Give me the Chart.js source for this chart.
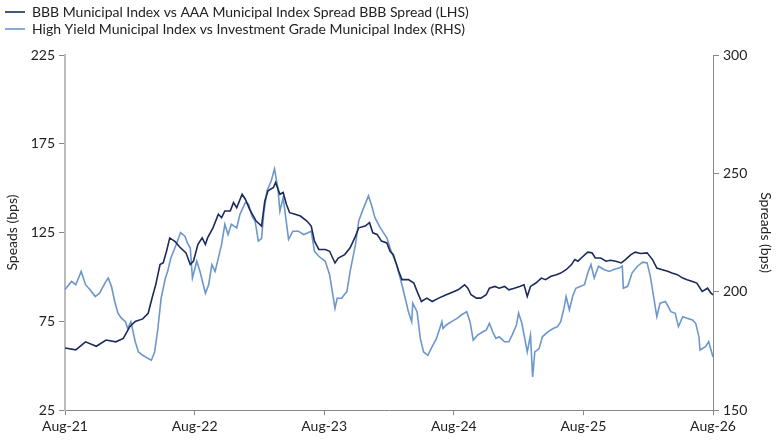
<!DOCTYPE html>
<html>
<head>
<meta charset="utf-8">
<script src="https://cdn.jsdelivr.net/npm/chart.js@4.4.1/dist/chart.umd.min.js"></script>
<style>
  html, body { margin: 0; padding: 0; background: #fff; }
  #wrap { position: relative; width: 780px; height: 440px; }
</style>
</head>
<body>
<div id="wrap"><canvas id="spreadChart"></canvas></div>
<script>
// x values are months since Aug-21
const xTickLabels = ['Aug-21', 'Aug-22', 'Aug-23', 'Aug-24', 'Aug-25', 'Aug-26'];

const bbbMonths = [
  0, 1.0, 1.9, 2.9, 3.8, 4.7, 5.4, 6.0, 6.5, 7.2,
  7.7, 8.1, 8.4, 8.8, 9.1, 9.4, 9.7, 10.2, 10.6, 11.2,
  11.6, 11.9, 12.3, 12.7, 13.0, 13.2, 13.7, 14.2, 14.5, 14.8,
  15.3, 15.6, 15.9, 16.4, 16.7, 17.1, 17.7, 18.2, 18.5, 18.8,
  19.3, 19.5, 19.9, 20.2, 20.5, 20.8, 21.3, 21.8, 22.4, 22.8,
  23.1, 23.5, 24.1, 24.5, 25.0, 25.3, 25.9, 26.4, 26.9, 27.2,
  27.8, 28.2, 28.5, 28.9, 29.3, 29.8, 30.1, 30.4, 30.9, 31.2,
  31.8, 32.3, 32.6, 33.0, 33.5, 34.0, 34.6, 35.3, 35.7, 36.4,
  37.0, 37.3, 37.6, 38.1, 38.5, 39.0, 39.3, 39.8, 40.2, 40.7,
  41.1, 41.6, 42.1, 42.5, 42.8, 43.1, 43.6, 44.1, 44.5, 45.0,
  45.5, 45.9, 46.4, 46.9, 47.2, 47.5, 47.8, 48.4, 48.8, 49.1,
  49.6, 50.1, 50.5, 51.0, 51.5, 51.9, 52.4, 52.8, 53.3, 53.9,
  54.4, 54.8, 55.3, 55.8, 56.2, 56.7, 57.2, 57.6, 58.1, 58.5,
  59.0, 59.5, 59.8, 60
];
const bbbSpread = [
  60, 59, 63.5, 61, 64.5, 63.5, 65.4, 72, 75, 76.4,
  79.6, 89, 95.6, 107, 108, 114.5, 122, 120, 117, 113.6,
  107, 109, 118.3, 122, 118.3, 122, 127.7, 135.3, 133.4, 137.2,
  137.2, 141.9, 139, 146.6, 143.8, 138.1, 131.5, 128.7, 142.8, 148.5,
  150.4, 153.2, 146.6, 147.6, 141, 136.2, 135.3, 134.3, 131.5, 128.7,
  120.2, 115.5, 115.5, 114.5, 107.9, 110.7, 112.6, 116.4, 123, 127.7,
  128.7, 130.6, 124.9, 124, 120.2, 119.2, 114.5, 112.6, 103.2, 98.5,
  98.5, 96.6, 91.9, 86.2, 88.1, 86.2, 88.1, 90, 91, 92.8,
  95.6, 93.7, 90, 88.1, 88.1, 90, 93.7, 94.7, 93.7, 94.7,
  92.8, 93.7, 94.7, 95.6, 89, 94.7, 96.6, 99.4, 98.5, 100.4,
  101.3, 102.2, 104.1, 107, 109.8, 108.9, 110.7, 114, 113.6, 110.7,
  110.7, 108.9, 109.4, 108.9, 107.9, 109.8, 112.6, 114, 113.2, 113.6,
  109.8, 105, 104.1, 103.2, 102.2, 101.3, 99.4, 98.5, 97.5, 96.6,
  91.9, 93.7, 91, 90
];

const hyMonths = [
  0, 0.6, 1.0, 1.5, 1.9, 2.3, 2.8, 3.2, 3.7, 4.0,
  4.3, 4.6, 4.9, 5.2, 5.6, 5.8, 6.1, 6.5, 6.8, 7.2,
  7.7, 8.0, 8.3, 8.6, 8.9, 9.3, 9.5, 9.8, 10.3, 10.7,
  11.1, 11.4, 11.6, 11.8, 12.2, 12.5, 13.0, 13.3, 13.6, 13.9,
  14.2, 14.5, 14.8, 15.1, 15.4, 15.9, 16.2, 16.7, 17.0, 17.3,
  17.6, 17.9, 18.2, 18.4, 18.7, 19.1, 19.4, 19.7, 19.9, 20.2,
  20.7, 21.1, 21.6, 22.1, 22.5, 22.8, 23.1, 23.5, 24.1, 24.5,
  25.0, 25.2, 25.6, 26.1, 26.4, 26.9, 27.2, 27.6, 28.1, 28.4,
  28.7, 29.2, 29.5, 29.8, 30.2, 30.7, 31.2, 31.5, 31.8, 32.1,
  32.2, 32.6, 32.9, 33.2, 33.6, 33.9, 34.4, 34.9, 35.0, 35.3,
  35.8, 36.3, 36.7, 37.2, 37.5, 37.8, 38.2, 38.7, 39.0, 39.3,
  39.6, 39.9, 40.2, 40.7, 41.1, 41.4, 41.8, 42.0, 42.3, 42.6,
  42.8, 43.1, 43.3, 43.5, 43.9, 44.2, 44.7, 45.2, 45.6, 45.9,
  46.2, 46.4, 46.7, 47.0, 47.3, 48.1, 48.4, 48.7, 49.0, 49.4,
  49.9, 50.4, 50.8, 51.3, 51.6, 51.7, 52.1, 52.5, 53.0, 53.5,
  53.9, 54.2, 54.5, 54.8, 55.1, 55.6, 56.1, 56.5, 56.8, 57.2,
  57.6, 58.1, 58.4, 58.7, 58.8, 59.3, 59.6, 60
];
const hySpread = [
  201, 204.4, 203, 208.6, 203, 201, 198, 199.4, 203.7, 205.8,
  202.3, 196, 191, 189, 187.4, 184.5, 187.4, 179, 174.6, 173.2,
  171.8, 171.1, 174.6, 184.5, 197.3, 205.8, 208.6, 214.3, 220, 225,
  223.5, 220, 218.5, 205.8, 212.9, 208.6, 199.4, 203, 211.5, 208.6,
  214.3, 220, 228.5, 224.2, 228.5, 227, 232.7, 237.7, 237, 232,
  229.9, 221.4, 222.5, 233, 242.6, 246.9, 251.9, 244, 234.1, 239.8,
  222.1, 225.6, 225.6, 224.2, 224.9, 225.6, 217.1, 215, 212.9, 207.2,
  193, 197.3, 197.3, 200.1, 208.6, 220, 229.9, 234.9, 240.5, 236.3,
  231.3, 227, 224.9, 222.8, 217.1, 211.5, 203, 197.3, 191.6, 187.4,
  195.2, 191.6, 180.3, 174.6, 173.2, 176, 180.3, 187.4, 184.5, 186,
  187.4, 188.8, 190.2, 191.6, 187.4, 179.6, 181.7, 183.1, 183.8, 186.7,
  183.1, 180.3, 181, 178.9, 178.9, 181.7, 186, 191, 186.7, 179.6,
  174.6, 181.7, 164, 174.6, 176, 181, 183.1, 184.5, 185.3, 187.4,
  193, 198, 192.4, 198, 201.5, 203, 207.9, 211.5, 205.8, 210.8,
  209.4, 208.6, 209.4, 210, 210.8, 201.5, 202.3, 207.9, 210.8, 212.5,
  212.2, 206.5, 198, 189.5, 195.2, 195.9, 191.6, 190.9, 185.3, 189.5,
  188.8, 188.1, 186.7, 181, 175.4, 176.8, 178.9, 172.5
];

const toPoints = (xs, ys) => xs.map((x, i) => ({ x: x, y: ys[i] }));

Chart.defaults.font.family = 'Lato, "Open Sans", sans-serif';
Chart.defaults.font.size = 14;
Chart.defaults.color = '#222';

// leave a little room under the legend, like the original
const legendGap = {
  id: 'legendGap',
  beforeInit(chart) {
    const fit = chart.legend.fit;
    chart.legend.fit = function () {
      fit.call(this);
      this.height += 9;
    };
  }
};

new Chart(document.getElementById('spreadChart'), {
  type: 'line',
  data: {
    datasets: [
      {
        label: 'BBB Municipal Index vs AAA Municipal Index Spread BBB Spread (LHS)',
        data: toPoints(bbbMonths, bbbSpread),
        borderColor: '#1c2a5c', backgroundColor: '#1c2a5c',
        borderWidth: 1.6, pointRadius: 0, tension: 0, yAxisID: 'y'
      },
      {
        label: 'High Yield Municipal Index vs Investment Grade Municipal Index (RHS)',
        data: toPoints(hyMonths, hySpread),
        borderColor: '#6b97cd', backgroundColor: '#6b97cd',
        borderWidth: 1.6, pointRadius: 0, tension: 0, yAxisID: 'y1'
      }
    ]
  },
  options: {
    responsive: true,
    maintainAspectRatio: false,
    animation: false,
    layout: { padding: { top: 2, right: 4, bottom: 2, left: 2 } },
    plugins: {
      legend: {
        position: 'top', align: 'start',
        labels: { usePointStyle: true, pointStyle: 'line', pointStyleWidth: 20, padding: 3 }
      },
      tooltip: { enabled: false }
    },
    scales: {
      x: {
        type: 'linear', min: 0, max: 60,
        ticks: { stepSize: 12, maxRotation: 0, padding: 3, callback: v => xTickLabels[v / 12] },
        grid: { drawOnChartArea: false, tickLength: 5, color: '#888' },
        border: { color: '#888' }
      },
      y: {
        position: 'left', min: 25, max: 225,
        ticks: { stepSize: 50, padding: 4 },
        grid: { drawOnChartArea: false, tickLength: 6, color: '#888' },
        border: { color: '#bbb', width: 2 },
        title: { display: true, text: 'Speads (bps)', padding: 2 },
        afterFit: s => { s.width = 63; }
      },
      y1: {
        position: 'right', min: 150, max: 300,
        ticks: { stepSize: 50, padding: 4 },
        grid: { drawOnChartArea: false, tickLength: 6, color: '#888' },
        border: { color: '#888' },
        title: { display: true, text: 'Spreads (bps)', padding: 2 },
        afterFit: s => { s.width = 63; }
      }
    }
  },
  plugins: [legendGap]
});
</script>
</body>
</html>
